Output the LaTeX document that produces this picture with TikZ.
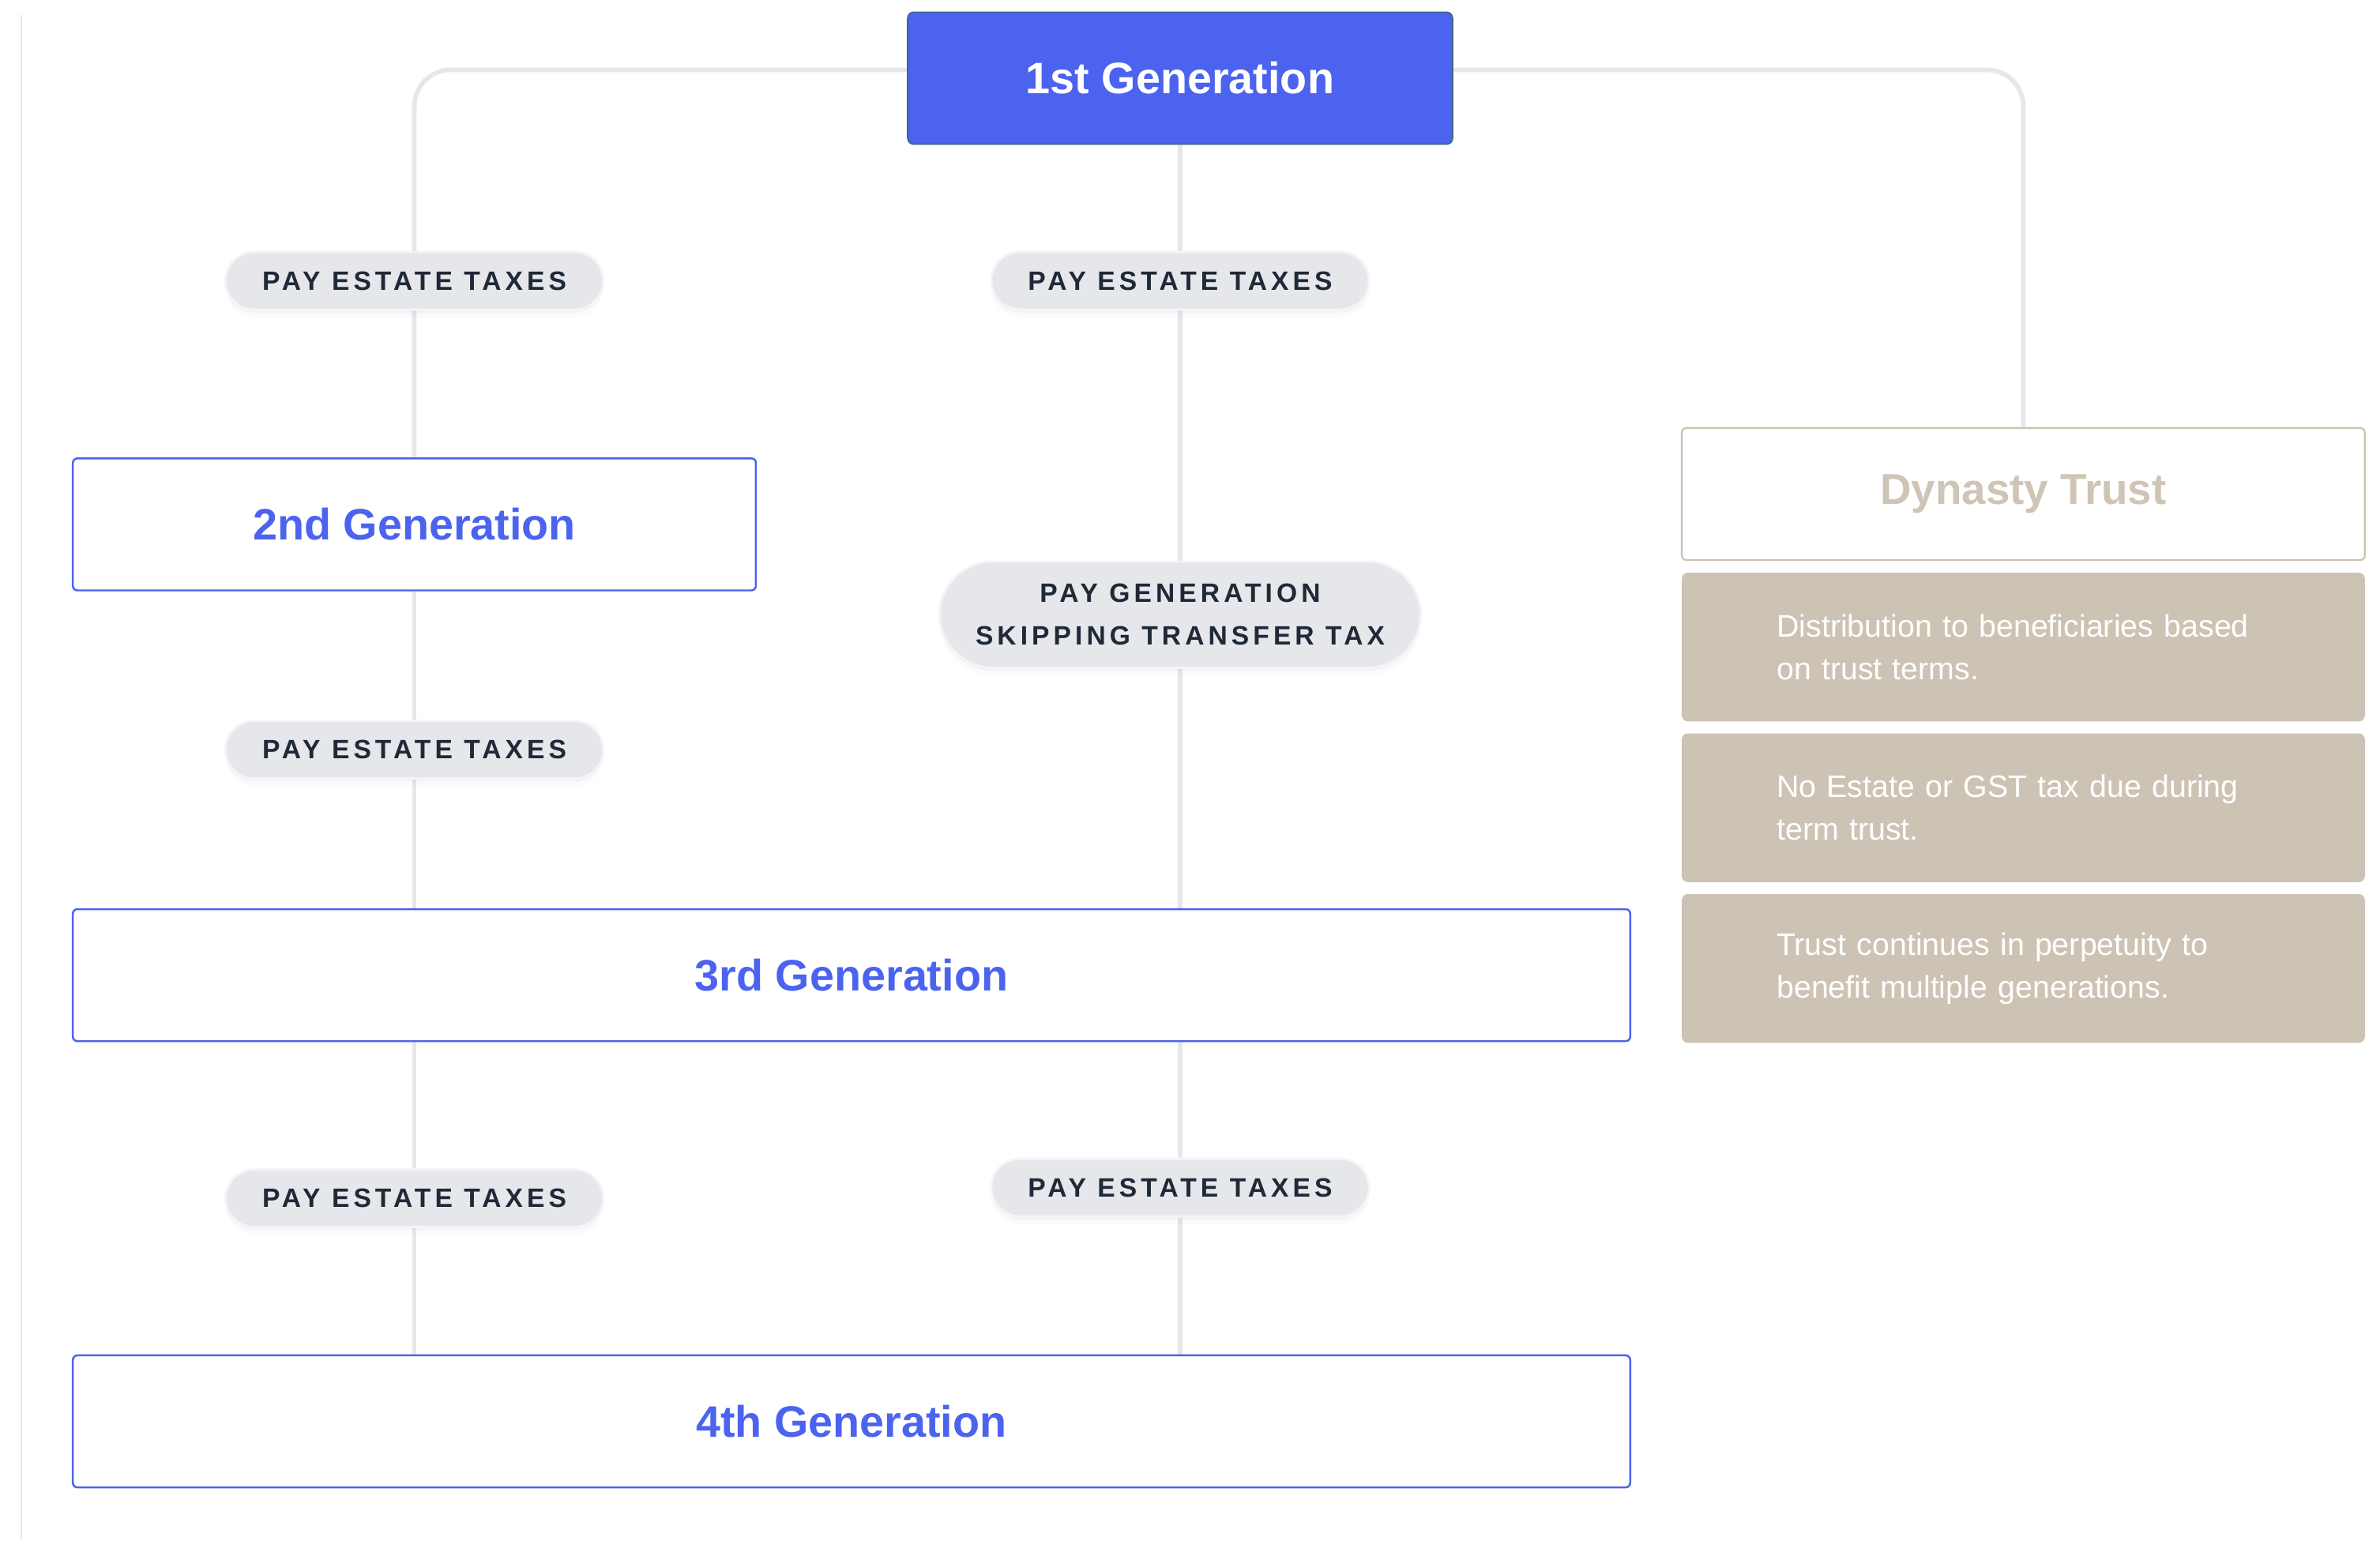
\documentclass[tikz,border=0pt]{standalone}
\usepackage{fontspec}
\setmainfont{Liberation Sans}
\newfontfamily\tagfont[LetterSpace=15]{Liberation Sans}
\usetikzlibrary{positioning,shadows,backgrounds}
\definecolor{gtBlue}{HTML}{4C63EF}
\definecolor{gtEdge}{HTML}{3D6889}
\definecolor{gtInk}{HTML}{1F2937}
\definecolor{gtLine}{HTML}{E5E7EB}
\definecolor{gtPill}{HTML}{E5E7EB}
\definecolor{gtTan}{HTML}{CDC3B4}
\definecolor{gtTanText}{HTML}{CFC4B5}
\tikzset{
 tree/.style={line cap=round,line join=round},
 gen/.style={rectangle,draw=gtBlue,fill=white,line width=1.3pt,rounded corners=3pt,
   minimum height=87pt,inner sep=0pt,text=gtBlue,font=\fontsize{29}{34}\selectfont\bfseries},
 genTop/.style={gen,draw=gtEdge,line width=.9pt,fill=gtBlue,text=white,rounded corners=4pt},
 pill/.style={rectangle,draw=white!60!gtPill,fill=gtPill,line width=1.5pt,rounded corners=19pt,
   minimum width=249pt,minimum height=38pt,inner sep=0pt,text=gtInk,align=center,
   font=\fontsize{17.5}{28}\tagfont\bfseries,
   drop shadow={shadow xshift=0pt,shadow yshift=-2pt,opacity=.05},
   drop shadow={shadow xshift=0pt,shadow yshift=-5pt,opacity=.03}},
 pillWide/.style={pill,minimum width=317pt,minimum height=70pt,rounded corners=35pt},
 trustHead/.style={rectangle,draw=gtTan,fill=white,line width=1.2pt,rounded corners=3pt,
   minimum width=450pt,minimum height=87pt,inner sep=0pt,text=gtTanText,
   font=\fontsize{28.5}{34}\selectfont\bfseries},
 trustNote/.style={rectangle,fill=gtTan,rounded corners=4pt,minimum width=450pt,
   minimum height=98pt,inner xsep=62.5pt,inner ysep=0pt,text width=325pt,align=left,
   text=white,font=\fontsize{20.5}{28}\selectfont},
 link/.style={draw=gtLine,line width=3pt}
}

\begin{document}
\begin{tikzpicture}[tree,x=1pt,y=-1pt]
 \useasboundingbox (0,0) rectangle (1568,1015);

 % generations
 \node[genTop,minimum width=359pt] (gen1) at (777.5,51.5) {1st Generation};
 \node[gen,minimum width=450pt] (gen2) at (273,345.5) {2nd Generation};
 \node[gen,minimum width=1026pt] (gen3) at (561,642.5) {3rd Generation};
 \node[gen,minimum width=1026pt] (gen4) at (561,936.5) {4th Generation};

 % trust column
 \node[trustHead] (trust) at (1333,325.5) {Dynasty Trust};
 \node[trustNote,below=7.5pt of trust] (note1) {Distribution to beneficiaries based\\on trust terms.};
 \node[trustNote,below=7.5pt of note1] (note2) {No Estate or GST tax due during\\term trust.};
 \node[trustNote,below=7.5pt of note2] (note3) {Trust continues in perpetuity to\\benefit multiple generations.};

 % tax labels
 \node[pill] (tax1) at (273,185) {PAY ESTATE TAXES};
 \node[pill] (tax2) at (777.5,185) {PAY ESTATE TAXES};
 \node[pillWide] (gst) at (777.5,405) {PAY GENERATION\\SKIPPING TRANSFER TAX};
 \node[pill] (tax3) at (273,494) {PAY ESTATE TAXES};
 \node[pill] (tax4) at (273,789.5) {PAY ESTATE TAXES};
 \node[pill] (tax5) at (777.5,782.5) {PAY ESTATE TAXES};

 \begin{scope}[on background layer]
  \fill[white] (0,0) rectangle (1568,1015);
  \draw[gtLine,line width=1pt] (14,10)--(14,1015);
  \draw[link,rounded corners=24pt] ([yshift=5.5pt]gen1.west) -| (gen2.north);
  \draw[link,rounded corners=24pt] ([yshift=5.5pt]gen1.east) -| (trust.north);
  \draw[link] (gen1.south) -- (gen1.south |- gen3.north);
  \draw[link] (gen2.south) -- (gen2.south |- gen3.north);
  \draw[link] (gen2.south |- gen3.south) -- (gen2.south |- gen4.north);
  \draw[link] (gen1.south |- gen3.south) -- (gen1.south |- gen4.north);
 \end{scope}
\end{tikzpicture}
\end{document}
